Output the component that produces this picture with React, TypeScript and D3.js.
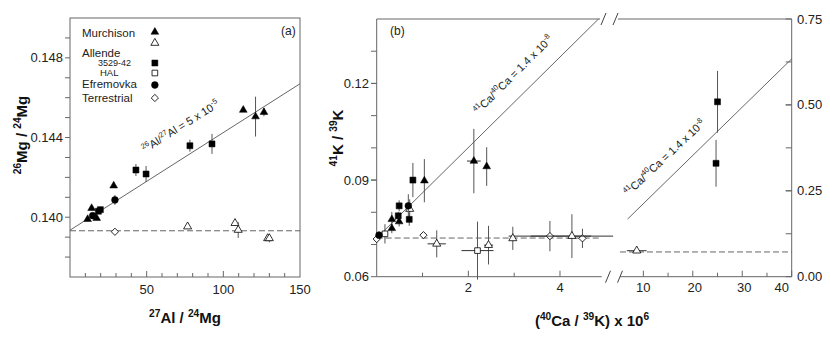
import React from 'react';
import * as d3 from 'd3';

// ---------- DATA ----------
// Panel (a): 27Al/24Mg vs 26Mg/24Mg
const aMurchisonFilled = [
  { x: 11.5, y: 0.13990, ey: 0.0001 },
  { x: 14.1, y: 0.14045, ey: 0.0001 },
  { x: 17.4, y: 0.13995, ey: 0.0001 },
  { x: 28.5, y: 0.14158, ey: 0.0001 },
  { x: 113.0, y: 0.14538, ey: 0.0001 },
  { x: 121.0, y: 0.14505, ey: 0.0010 },
  { x: 126.5, y: 0.14527, ey: 0.0002 },
];
const aMurchisonOpen = [
  { x: 76.7, y: 0.13953, ey: 0.0001 },
  { x: 107.6, y: 0.13970, ey: 0.0001 },
  { x: 109.7, y: 0.13936, ey: 0.0004 },
  { x: 128.9, y: 0.13894, ey: 0.0001 },
  { x: 130.0, y: 0.13894, ey: 0.0002 },
];
const aAllendeFilled = [
  { x: 18.5, y: 0.14030, ey: 0.0001 },
  { x: 19.8, y: 0.14038, ey: 0.0001 },
  { x: 43.0, y: 0.14237, ey: 0.0003 },
  { x: 49.6, y: 0.14217, ey: 0.0004 },
  { x: 78.2, y: 0.14359, ey: 0.0003 },
  { x: 92.6, y: 0.14368, ey: 0.0005 },
];
const aEfremovka = [
  { x: 14.8, y: 0.14008, ey: 0.0001 },
  { x: 29.3, y: 0.14087, ey: 0.00025 },
];
const aTerrestrial = [{ x: 29.3, y: 0.13927, ey: 0 }];
const aRefRatio = 0.13932;
const aFitIntercept = 0.13935;
const aFitSlope = 4.9e-5;
const aXDomain = [0, 150];
const aYDomain = [0.137, 0.150];
const aXLabels = [50, 100, 150];
const aYLabels = [0.140, 0.144, 0.148];

// Panel (b): (40Ca/39K) x 1e6 vs 41K/39K
const bMurchisonFilled = [
  { x: 0.33, y: 0.0778, ey: 0.0023, ex: 0 },
  { x: 0.33, y: 0.0750, ey: 0.0015, ex: 0 },
  { x: 0.49, y: 0.0771, ey: 0.0015, ex: 0 },
  { x: 1.04, y: 0.0898, ey: 0.0067, ex: 0 },
  { x: 2.12, y: 0.0959, ey: 0.0100, ex: 0.15 },
  { x: 2.40, y: 0.0942, ey: 0.0060, ex: 0 },
];
const bMurchisonOpen = [
  { x: 0.72, y: 0.0810, ey: 0.0030, ex: 0 },
  { x: 1.31, y: 0.0702, ey: 0.0042, ex: 0.2 },
  { x: 2.44, y: 0.0698, ey: 0.0060, ex: 0.1 },
  { x: 2.97, y: 0.0719, ey: 0.0036, ex: 0 },
  { x: 4.26, y: 0.0726, ey: 0.0068, ex: 0.9 },
];
const bAllendeFilled = [
  { x: 0.47, y: 0.0789, ey: 0.0012, ex: 0 },
  { x: 0.49, y: 0.0820, ey: 0.0017, ex: 0 },
  { x: 0.71, y: 0.0778, ey: 0.0020, ex: 0 },
  { x: 0.79, y: 0.0900, ey: 0.0053, ex: 0 },
];
const bHAL = [
  { x: 0.18, y: 0.0733, ey: 0.0030, ex: 0 },
  { x: 2.20, y: 0.0681, ey: 0.0090, ex: 0.35 },
];
const bEfremovka = [
  { x: 0.05, y: 0.0729, ey: 0.0012, ex: 0 },
  { x: 0.69, y: 0.0820, ey: 0.0036, ex: 0 },
];
const bTerrestrial = [
  { x: 0.0, y: 0.0717, ey: 0, ex: 0 },
  { x: 1.02, y: 0.0729, ey: 0.0008, ex: 0 },
  { x: 3.78, y: 0.0726, ey: 0.0047, ex: 0.9 },
  { x: 4.49, y: 0.0719, ey: 0.0030, ex: 0 },
];
// right (high-ratio) segment
const bRightAllende = [
  { x: 25.0, y: 0.509, ey: 0.090, ex: 0 },
  { x: 24.7, y: 0.330, ey: 0.068, ex: 0 },
];
const bRightMurchisonOpen = [{ x: 8.66, y: 0.0757, ey: 0, ex: 2 }];
const bRefRatio = 0.072;
const bFitSlope = 0.01405;
const bXDomainL = [0, 4.91];
const bXDomainR = [5.28, 40];
const bYDomainL = [0.06, 0.14];
const bYDomainR = [0, 0.75];
const bXLabelsL = [2, 4];
const bXLabelsR = [10, 20, 30, 40];
const bYLabelsL = [0.06, 0.09, 0.12];
const bYLabelsR = [0.0, 0.25, 0.5, 0.75];

// ---------- helpers ----------
const FONT = 'Liberation Sans, Arial, Helvetica, sans-serif';
const AX = '#666';
const TXT = '#222';

function rich(parts: string[], size: number) {
  const out: any[] = [];
  let shifted = false;
  parts.forEach((p, i) => {
    const isSup = p.startsWith('^');
    const t = isSup ? p.slice(1) : p;
    let dy: number | undefined;
    if (isSup && !shifted) { dy = -size * 0.42; shifted = true; }
    else if (!isSup && shifted) { dy = size * 0.42; shifted = false; }
    out.push(<tspan key={i} dy={dy} fontSize={isSup ? size * 0.68 : size}>{t}</tspan>);
  });
  return out;
}

type Kind = 'triF' | 'triO' | 'sqF' | 'sqO' | 'circF' | 'diaO';
function Marker({ kind, x, y }: { kind: Kind; x: number; y: number }) {
  let path = '';
  let rot = 0;
  if (kind === 'triF') path = d3.symbol().type(d3.symbolTriangle).size(26)()!;
  if (kind === 'triO') path = d3.symbol().type(d3.symbolTriangle).size(28)()!;
  if (kind === 'sqF') path = d3.symbol().type(d3.symbolSquare).size(36)()!;
  if (kind === 'sqO') path = d3.symbol().type(d3.symbolSquare).size(32)()!;
  if (kind === 'circF') path = d3.symbol().type(d3.symbolCircle).size(36)()!;
  if (kind === 'diaO') { path = d3.symbol().type(d3.symbolSquare).size(26)()!; rot = 45; }
  const open = kind.endsWith('O');
  return (
    <path d={path} transform={`translate(${x},${y}) rotate(${rot})`}
      fill={open ? '#fff' : '#000'} stroke="#000" strokeWidth={open ? 0.8 : 0.5} />
  );
}

type Pt = { x: number; y: number; ey: number; ex?: number };
function Points({ data, kind, xs, ys }: { data: Pt[]; kind: Kind; xs: any; ys: any }) {
  return (
    <g>
      {data.map((d, i) => (
        <g key={i}>
          {d.ey > 0 && <line x1={xs(d.x)} x2={xs(d.x)} y1={ys(d.y - d.ey)} y2={ys(d.y + d.ey)} stroke="#555" strokeWidth={1} />}
          {d.ex && d.ex > 0 ? <line x1={xs(d.x - d.ex)} x2={xs(d.x + d.ex)} y1={ys(d.y)} y2={ys(d.y)} stroke="#333" strokeWidth={1} /> : null}
          <Marker kind={kind} x={xs(d.x)} y={ys(d.y)} />
        </g>
      ))}
    </g>
  );
}

export default function App() {
  // Panel a scales
  const xA = d3.scaleLinear().domain(aXDomain).range([70, 300]);
  const yA = d3.scaleLinear().domain(aYDomain).range([277, 18]);
  // Panel b scales
  const xBL = d3.scaleLinear().domain(bXDomainL).range([376.7, 601.7]);
  const xBR = d3.scaleLinear().domain(bXDomainR).range([620, 791.7]);
  const yBL = d3.scaleLinear().domain(bYDomainL).range([276.7, 19]);
  const yBR = d3.scaleLinear().domain(bYDomainR).range([276.7, 19]);

  const aXMinor = d3.range(10, 150, 10);
  const aYMinor = d3.range(0.138, 0.1495, 0.001);
  const bXMinorL = [1, 2, 3, 4];
  const bXMinorR = d3.range(10, 40.1, 5);
  const bYMinorL = d3.range(0.07, 0.135, 0.01);
  const bYMinorR = d3.range(0.125, 0.7, 0.125);

  const fa = (x: number) => aFitIntercept + aFitSlope * x;
  const fb = (x: number) => bRefRatio + bFitSlope * x;
  const bLeftEnd = (bYDomainL[1] - bRefRatio) / bFitSlope;

  const legendX = xA(56);
  const legend: { label: string[]; size: number; tx: number; ty: number; kind?: Kind; my?: number }[] = [
    { label: ['Murchison'], size: 11.5, tx: 82, ty: 37, kind: 'triF', my: 32 },
    { label: [''], size: 11.5, tx: 82, ty: 37, kind: 'triO', my: 43 },
    { label: ['Allende'], size: 11.5, tx: 82, ty: 57 },
    { label: ['3529-42'], size: 9, tx: 98, ty: 66, kind: 'sqF', my: 63 },
    { label: ['HAL'], size: 9.5, tx: 100, ty: 75.5, kind: 'sqO', my: 73 },
    { label: ['Efremovka'], size: 11.5, tx: 82, ty: 88, kind: 'circF', my: 85 },
    { label: ['Terrestrial'], size: 11.5, tx: 82, ty: 101.5, kind: 'diaO', my: 98 },
  ];

  return (
    <svg width={830} height={343} style={{ position: 'absolute', left: 0, top: 0, background: '#fff' }} fontFamily={FONT}>
      <rect x={0} y={0} width={830} height={343} fill="#fff" />
      {/* ================= Panel (a) ================= */}
      <rect x={70} y={18} width={230} height={259} fill="none" stroke={AX} strokeWidth={1} />
      {aXMinor.map((v) => (
        <line key={v} x1={xA(v)} x2={xA(v)} y1={277} y2={aXLabels.includes(v) ? 271 : 273} stroke={AX} />
      ))}
      {aXLabels.map((v) => (
        <text key={v} x={xA(v)} y={294} textAnchor="middle" fontSize={13} fill={TXT}>{v}</text>
      ))}
      {aYMinor.map((v, i) => (
        <line key={i} x1={65} x2={70} y1={yA(v)} y2={yA(v)} stroke={AX} />
      ))}
      {aYLabels.map((v) => (
        <text key={v} x={63} y={yA(v) + 4.5} textAnchor="end" fontSize={13} fill={TXT}>{v.toFixed(3)}</text>
      ))}
      <line x1={xA(0)} x2={xA(150)} y1={yA(aRefRatio)} y2={yA(aRefRatio)} stroke="#555" strokeDasharray="6,3" strokeWidth={0.9} />
      <line x1={xA(0)} x2={xA(150)} y1={yA(fa(0))} y2={yA(fa(150))} stroke="#555" strokeWidth={0.9} />
      <text transform={`translate(${xA(49)},${yA(0.14322)}) rotate(-32)`} fontSize={11} fill={TXT}>
        {rich(['^26', 'Al/', '^27', 'Al = 5 x 10', '^-5'], 11)}
      </text>
      <Points data={aMurchisonOpen} kind="triO" xs={xA} ys={yA} />
      <Points data={aTerrestrial} kind="diaO" xs={xA} ys={yA} />
      <Points data={aEfremovka} kind="circF" xs={xA} ys={yA} />
      <Points data={aAllendeFilled} kind="sqF" xs={xA} ys={yA} />
      <Points data={aMurchisonFilled} kind="triF" xs={xA} ys={yA} />
      {legend.map((l, i) => (
        <g key={i}>
          {l.label[0] && <text x={l.tx} y={l.ty} fontSize={l.size} fill={TXT}>{l.label[0]}</text>}
          {l.kind && <Marker kind={l.kind} x={legendX - 1} y={l.my!} />}
        </g>
      ))}
      <text x={281} y={35} fontSize={12} fill={TXT}>(a)</text>
      <text transform={`translate(27,135) rotate(-90)`} textAnchor="middle" fontSize={15} fontWeight="bold" fill="#111">
        {rich(['^26', 'Mg / ', '^24', 'Mg'], 15)}
      </text>
      <text x={185} y={323} textAnchor="middle" fontSize={15} fontWeight="bold" fill="#111">
        {rich(['^27', 'Al / ', '^24', 'Mg'], 15)}
      </text>

      {/* ================= Panel (b) ================= */}
      {/* frame */}
      <line x1={376.7} x2={376.7} y1={19} y2={276.7} stroke={AX} />
      <line x1={791.7} x2={791.7} y1={19} y2={276.7} stroke={AX} />
      <line x1={376.7} x2={600} y1={19} y2={19} stroke={AX} />
      <line x1={618} x2={791.7} y1={19} y2={19} stroke={AX} />
      <line x1={376.7} x2={601.7} y1={276.7} y2={276.7} stroke={AX} />
      <line x1={620} x2={791.7} y1={276.7} y2={276.7} stroke={AX} />
      {[603.5, 615.5].map((bx) => (
        <g key={bx}>
          <line x1={bx - 2.5} x2={bx + 2.5} y1={25} y2={13} stroke="#444" />
          <line x1={bx + 2} x2={bx + 7} y1={282.7} y2={270.7} stroke="#444" />
        </g>
      ))}
      {bXMinorL.map((v) => (
        <line key={v} x1={xBL(v)} x2={xBL(v)} y1={276.7} y2={bXLabelsL.includes(v) ? 270.7 : 272.7} stroke={AX} />
      ))}
      {bXLabelsL.map((v) => (
        <text key={v} x={xBL(v)} y={292} textAnchor="middle" fontSize={13} fill={TXT}>{v}</text>
      ))}
      {bXMinorR.map((v) => (
        <line key={v} x1={xBR(v)} x2={xBR(v)} y1={276.7} y2={bXLabelsR.includes(v) ? 270.7 : 272.7} stroke={AX} />
      ))}
      {bXLabelsR.map((v) => (
        <text key={v} x={xBR(v) + (v === 40 ? -10 : v === 10 ? 0 : 2)} y={292} textAnchor="middle" fontSize={13} fill={TXT}>{v}</text>
      ))}
      {bYMinorL.map((v, i) => (
        <line key={i} x1={371} x2={376.7} y1={yBL(v)} y2={yBL(v)} stroke={AX} />
      ))}
      {bYLabelsL.map((v) => (
        <line key={'t' + v} x1={371} x2={376.7} y1={yBL(v)} y2={yBL(v)} stroke={AX} />
      ))}
      {bYLabelsL.map((v) => (
        <text key={v} x={369} y={yBL(v) + 4.5} textAnchor="end" fontSize={13} fill={TXT}>{v.toFixed(2)}</text>
      ))}
      {bYMinorR.map((v, i) => (
        <line key={i} x1={785.7} x2={791.7} y1={yBR(v)} y2={yBR(v)} stroke={AX} />
      ))}
      {bYLabelsR.map((v) => (
        <g key={v}>
          <line x1={785.7} x2={791.7} y1={yBR(v)} y2={yBR(v)} stroke={AX} />
          <text x={797} y={yBR(v) + 4.5} fontSize={13} fill={TXT}>{v.toFixed(2)}</text>
        </g>
      ))}
      {/* reference lines */}
      <line x1={xBL(bXDomainL[0])} x2={xBL(bXDomainL[1])} y1={yBL(bRefRatio)} y2={yBL(bRefRatio)} stroke="#555" strokeDasharray="6,3" strokeWidth={0.9} />
      <line x1={xBR(bXDomainR[0])} x2={xBR(bXDomainR[1])} y1={yBR(bRefRatio)} y2={yBR(bRefRatio)} stroke="#555" strokeDasharray="6,3" strokeWidth={0.9} />
      <line x1={xBL(0)} x2={xBL(bLeftEnd)} y1={yBL(fb(0))} y2={yBL(fb(bLeftEnd))} stroke="#555" strokeWidth={0.9} />
      <line x1={xBR(6.8)} x2={xBR(40)} y1={yBR(fb(6.8))} y2={yBR(fb(40))} stroke="#555" strokeWidth={0.9} />
      <text transform={`translate(${xBL(2.22)},${yBL(0.1102)}) rotate(-45)`} fontSize={11} fill={TXT}>
        {rich(['^41', 'Ca/', '^40', 'Ca = 1.4 x 10', '^-8'], 11)}
      </text>
      <text transform={`translate(${xBR(6.96)},${yBR(0.233)}) rotate(-43)`} fontSize={11} fill={TXT}>
        {rich(['^41', 'Ca/', '^40', 'Ca = 1.4 x 10', '^-8'], 11)}
      </text>
      <Points data={bTerrestrial} kind="diaO" xs={xBL} ys={yBL} />
      <Points data={bMurchisonOpen} kind="triO" xs={xBL} ys={yBL} />
      <Points data={bHAL} kind="sqO" xs={xBL} ys={yBL} />
      <Points data={bEfremovka} kind="circF" xs={xBL} ys={yBL} />
      <Points data={bAllendeFilled} kind="sqF" xs={xBL} ys={yBL} />
      <Points data={bMurchisonFilled} kind="triF" xs={xBL} ys={yBL} />
      <Points data={bRightMurchisonOpen} kind="triO" xs={xBR} ys={yBR} />
      <Points data={bRightAllende} kind="sqF" xs={xBR} ys={yBR} />
      <text x={390} y={35} fontSize={12} fill={TXT}>(b)</text>
      <text transform={`translate(343,138) rotate(-90)`} textAnchor="middle" fontSize={15} fontWeight="bold" fill="#111">
        {rich(['^41', 'K / ', '^39', 'K'], 15)}
      </text>
      <text x={592} y={326} textAnchor="middle" fontSize={15} fontWeight="bold" fill="#111">
        {rich(['(', '^40', 'Ca / ', '^39', 'K) x 10', '^6'], 15)}
      </text>
    </svg>
  );
}
